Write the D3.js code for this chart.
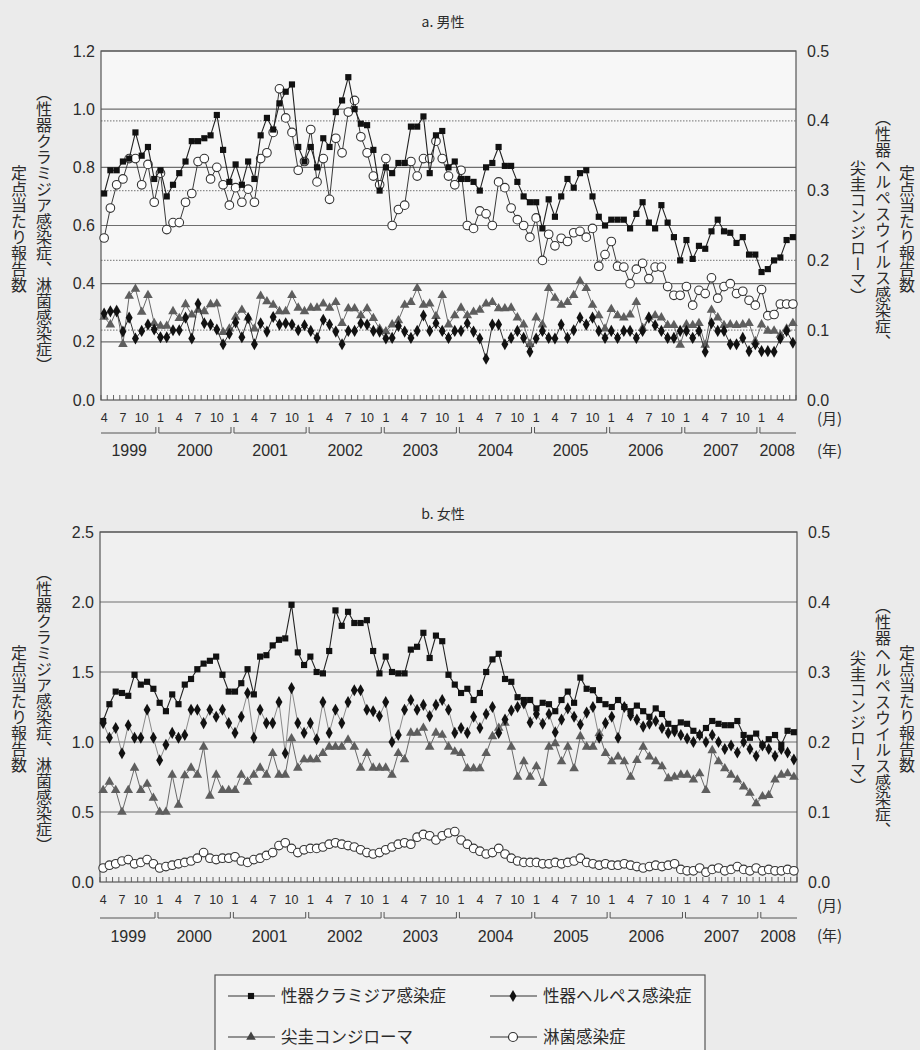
<!DOCTYPE html>
<html>
<head>
<meta charset="utf-8">
<script src="https://cdn.jsdelivr.net/npm/d3@7"></script>
<style>
  body { margin: 0; background: #ebebeb; }
  svg text { font-family: "Liberation Sans", Arial, sans-serif; fill: #2b2b2b; }
  svg text.jp { font-family: "Noto Sans CJK JP", sans-serif; }
  .vert { writing-mode: vertical-rl; }
</style>
</head>
<body>
<svg id="chart" width="920" height="1050"></svg>
<script>
// monthly reports per sentinel site, April 1999 to June 2008
const startYear = 1999;
const startMonth = 4;
const monthCount = 111;
const years = ["1999", "2000", "2001", "2002", "2003", "2004", "2005", "2006", "2007", "2008"];
const monthTickLabels = [1, 4, 7, 10];

const maleLeftTicks = [0, 0.2, 0.4, 0.6, 0.8, 1.0, 1.2];
const femaleLeftTicks = [0, 0.5, 1.0, 1.5, 2.0, 2.5];
const rightTicks = [0, 0.1, 0.2, 0.3, 0.4, 0.5];

// a. male — left axis
const maleChlamydia = [
  0.71, 0.79, 0.79, 0.82, 0.83, 0.92, 0.84, 0.87, 0.76, 0.79,
  0.70, 0.74, 0.78, 0.82, 0.89, 0.89, 0.90, 0.91, 0.98, 0.86,
  0.75, 0.81, 0.74, 0.82, 0.76, 0.91, 0.97, 0.93, 1.02, 1.06,
  1.085, 0.87, 0.82, 0.87, 0.80, 0.90, 0.87, 0.99, 1.03, 1.11,
  1.00, 0.95, 0.945, 0.86, 0.72, 0.80, 0.78, 0.815, 0.815, 0.94,
  0.94, 0.975, 0.78, 0.91, 0.925, 0.80, 0.82, 0.76, 0.76, 0.75,
  0.72, 0.80, 0.815, 0.87, 0.805, 0.805, 0.75, 0.70, 0.68, 0.68,
  0.59, 0.69, 0.63, 0.70, 0.76, 0.73, 0.78, 0.79, 0.70, 0.63,
  0.60, 0.62, 0.62, 0.62, 0.59, 0.64, 0.68, 0.61, 0.59, 0.67,
  0.61, 0.56, 0.48, 0.55, 0.485, 0.53, 0.52, 0.58, 0.62, 0.58,
  0.575, 0.54, 0.56, 0.50, 0.50, 0.44, 0.45, 0.48, 0.49, 0.55,
  0.56
];
const maleGonorrhea = [
  0.557, 0.66, 0.74, 0.76, 0.83, 0.83, 0.74, 0.81, 0.68, 0.78,
  0.586, 0.61, 0.61, 0.68, 0.71, 0.82, 0.83, 0.76, 0.80, 0.74,
  0.67, 0.73, 0.68, 0.725, 0.68, 0.83, 0.85, 0.92, 1.07, 0.97,
  0.92, 0.79, 0.82, 0.93, 0.75, 0.83, 0.69, 0.90, 0.85, 0.99,
  1.03, 0.905, 0.85, 0.77, 0.74, 0.83, 0.60, 0.655, 0.67, 0.82,
  0.77, 0.83, 0.83, 0.89, 0.83, 0.77, 0.74, 0.79, 0.60, 0.59,
  0.65, 0.64, 0.60, 0.75, 0.73, 0.66, 0.62, 0.60, 0.56, 0.626,
  0.48, 0.57, 0.53, 0.556, 0.545, 0.575, 0.58, 0.56, 0.59, 0.46,
  0.50, 0.545, 0.46, 0.457, 0.40, 0.45, 0.47, 0.417, 0.457, 0.457,
  0.39, 0.36, 0.36, 0.39, 0.326, 0.377, 0.366, 0.42, 0.35, 0.39,
  0.40, 0.366, 0.374, 0.343, 0.326, 0.38, 0.29, 0.294, 0.33, 0.33,
  0.33
];
// a. male — right axis
const maleHerpes = [
  0.124, 0.127, 0.127, 0.098, 0.118, 0.088, 0.099, 0.108, 0.101, 0.090,
  0.090, 0.100, 0.100, 0.118, 0.088, 0.138, 0.110, 0.108, 0.101, 0.080,
  0.095, 0.111, 0.090, 0.117, 0.080, 0.110, 0.098, 0.119, 0.108, 0.110,
  0.108, 0.100, 0.107, 0.099, 0.089, 0.115, 0.108, 0.098, 0.080, 0.099,
  0.099, 0.110, 0.108, 0.099, 0.098, 0.088, 0.089, 0.106, 0.098, 0.089,
  0.099, 0.121, 0.099, 0.110, 0.099, 0.089, 0.099, 0.099, 0.110, 0.098,
  0.088, 0.059, 0.108, 0.108, 0.080, 0.089, 0.099, 0.089, 0.069, 0.088,
  0.099, 0.089, 0.088, 0.108, 0.089, 0.100, 0.118, 0.108, 0.118, 0.099,
  0.089, 0.099, 0.089, 0.099, 0.099, 0.089, 0.099, 0.118, 0.107, 0.099,
  0.089, 0.089, 0.099, 0.099, 0.089, 0.099, 0.069, 0.110, 0.099, 0.099,
  0.080, 0.080, 0.089, 0.070, 0.080, 0.070, 0.070, 0.069, 0.088, 0.099,
  0.082
];
const maleCondyloma = [
  0.119, 0.108, 0.129, 0.080, 0.149, 0.159, 0.126, 0.150, 0.110, 0.106,
  0.106, 0.127, 0.117, 0.137, 0.122, 0.129, 0.127, 0.137, 0.138, 0.097,
  0.102, 0.119, 0.129, 0.118, 0.102, 0.149, 0.141, 0.136, 0.127, 0.127,
  0.150, 0.132, 0.127, 0.132, 0.132, 0.138, 0.132, 0.140, 0.110, 0.131,
  0.131, 0.121, 0.131, 0.117, 0.102, 0.098, 0.108, 0.114, 0.136, 0.140,
  0.160, 0.136, 0.138, 0.120, 0.150, 0.108, 0.121, 0.132, 0.121, 0.126,
  0.129, 0.138, 0.140, 0.131, 0.131, 0.132, 0.118, 0.108, 0.080, 0.118,
  0.108, 0.160, 0.146, 0.136, 0.140, 0.150, 0.170, 0.160, 0.136, 0.121,
  0.102, 0.130, 0.121, 0.118, 0.122, 0.140, 0.103, 0.119, 0.121, 0.118,
  0.107, 0.107, 0.079, 0.108, 0.107, 0.110, 0.079, 0.129, 0.118, 0.107,
  0.108, 0.107, 0.108, 0.110, 0.084, 0.108, 0.099, 0.099, 0.093, 0.102,
  0.110
];

// b. female — left axis
const femaleChlamydia = [
  1.15, 1.27, 1.36, 1.35, 1.33, 1.48, 1.41, 1.43, 1.38, 1.28,
  1.22, 1.34, 1.27, 1.41, 1.45, 1.52, 1.56, 1.58, 1.61, 1.48,
  1.36, 1.36, 1.42, 1.52, 1.34, 1.61, 1.62, 1.69, 1.73, 1.74,
  1.98, 1.64, 1.55, 1.61, 1.50, 1.49, 1.65, 1.94, 1.83, 1.93,
  1.85, 1.85, 1.87, 1.65, 1.49, 1.61, 1.50, 1.49, 1.49, 1.66,
  1.68, 1.78, 1.60, 1.76, 1.72, 1.48, 1.41, 1.35, 1.38, 1.30,
  1.35, 1.50, 1.59, 1.63, 1.45, 1.43, 1.32, 1.30, 1.30, 1.24,
  1.28, 1.27, 1.22, 1.30, 1.36, 1.28, 1.46, 1.38, 1.37, 1.30,
  1.27, 1.25, 1.30, 1.25, 1.22, 1.26, 1.22, 1.18, 1.24, 1.20,
  1.13, 1.10, 1.14, 1.13, 1.08, 1.05, 1.10, 1.15, 1.13, 1.12,
  1.12, 1.15, 1.05, 1.03, 1.06, 0.98, 1.02, 1.05, 0.98, 1.08,
  1.07
];
const femaleGonorrhea = [
  0.10, 0.12, 0.13, 0.15, 0.16, 0.13, 0.14, 0.16, 0.13, 0.10,
  0.11, 0.12, 0.13, 0.14, 0.15, 0.17, 0.21, 0.17, 0.16, 0.17,
  0.17, 0.18, 0.15, 0.14, 0.16, 0.17, 0.19, 0.21, 0.26, 0.28,
  0.24, 0.21, 0.23, 0.24, 0.24, 0.25, 0.27, 0.28, 0.27, 0.26,
  0.25, 0.23, 0.21, 0.20, 0.21, 0.23, 0.25, 0.27, 0.28, 0.27,
  0.32, 0.34, 0.33, 0.30, 0.33, 0.35, 0.36, 0.30, 0.27, 0.24,
  0.22, 0.20, 0.21, 0.24, 0.20, 0.17, 0.15, 0.14, 0.14, 0.14,
  0.13, 0.13, 0.14, 0.13, 0.14, 0.15, 0.17, 0.14, 0.13, 0.12,
  0.13, 0.12, 0.12, 0.13, 0.12, 0.11, 0.10, 0.11, 0.12, 0.11,
  0.12, 0.13, 0.09, 0.08, 0.08, 0.10, 0.07, 0.09, 0.10, 0.08,
  0.09, 0.11, 0.09, 0.08, 0.10, 0.08, 0.09, 0.08, 0.08, 0.09,
  0.08
];
// b. female — right axis
const femaleHerpes = [
  0.227, 0.206, 0.220, 0.184, 0.224, 0.206, 0.206, 0.246, 0.206, 0.174,
  0.196, 0.213, 0.206, 0.210, 0.246, 0.246, 0.227, 0.246, 0.236, 0.246,
  0.227, 0.213, 0.236, 0.270, 0.206, 0.246, 0.227, 0.227, 0.257, 0.184,
  0.277, 0.227, 0.213, 0.227, 0.204, 0.257, 0.213, 0.246, 0.227, 0.257,
  0.274, 0.274, 0.246, 0.244, 0.237, 0.257, 0.200, 0.210, 0.246, 0.260,
  0.246, 0.253, 0.237, 0.253, 0.260, 0.246, 0.213, 0.220, 0.213, 0.236,
  0.220, 0.240, 0.250, 0.213, 0.232, 0.245, 0.250, 0.255, 0.228, 0.240,
  0.226, 0.240, 0.214, 0.232, 0.248, 0.236, 0.225, 0.242, 0.250, 0.206,
  0.227, 0.236, 0.206, 0.250, 0.238, 0.232, 0.222, 0.226, 0.230, 0.220,
  0.213, 0.215, 0.210, 0.205, 0.200, 0.210, 0.200, 0.210, 0.200, 0.190,
  0.195, 0.185, 0.200, 0.190, 0.180, 0.195, 0.190, 0.180, 0.190, 0.185,
  0.175
];
const femaleCondyloma = [
  0.131, 0.143, 0.131, 0.100, 0.131, 0.163, 0.131, 0.140, 0.120, 0.100,
  0.100, 0.153, 0.110, 0.152, 0.163, 0.153, 0.193, 0.123, 0.153, 0.131,
  0.131, 0.131, 0.153, 0.143, 0.153, 0.163, 0.153, 0.184, 0.153, 0.153,
  0.205, 0.163, 0.175, 0.175, 0.175, 0.184, 0.193, 0.193, 0.193, 0.203,
  0.193, 0.163, 0.184, 0.163, 0.163, 0.163, 0.153, 0.184, 0.175, 0.213,
  0.213, 0.220, 0.193, 0.213, 0.210, 0.193, 0.186, 0.184, 0.162, 0.162,
  0.162, 0.184, 0.208, 0.220, 0.227, 0.193, 0.150, 0.172, 0.150, 0.165,
  0.141, 0.193, 0.198, 0.172, 0.193, 0.162, 0.208, 0.193, 0.193, 0.212,
  0.184, 0.172, 0.179, 0.172, 0.150, 0.174, 0.193, 0.179, 0.172, 0.165,
  0.148, 0.150, 0.153, 0.153, 0.146, 0.155, 0.131, 0.188, 0.172, 0.162,
  0.153, 0.146, 0.136, 0.127, 0.112, 0.122, 0.124, 0.146, 0.153, 0.155,
  0.150
];

const monthOf = d3.range(monthCount).map((i) => ((startMonth - 1 + i) % 12) + 1);
const yearOf = d3.range(monthCount).map((i) => startYear + Math.floor((startMonth - 1 + i) / 12));

const svg = d3.select("#chart");

const panels = [
  {
    title: "a. 男性", titleY: 27,
    left: 101, right: 796, top: 51, bottom: 400,
    leftMax: 1.2, leftTicks: maleLeftTicks,
    plotFill: "#f7f7f7",
    chlamydia: maleChlamydia, gonorrhea: maleGonorrhea,
    herpes: maleHerpes, condyloma: maleCondyloma,
    herpesLine: "#333", bracketY: 433, yearY: 456, monthUnitY: 424, yearUnitY: 456,
    labelTop: 85, labelTop2: 165, rLabelTop: 110, rLabelTop2: 160
  },
  {
    title: "b. 女性", titleY: 519,
    left: 100, right: 797, top: 532, bottom: 882,
    leftMax: 2.5, leftTicks: femaleLeftTicks,
    plotFill: "#f0f0f0",
    chlamydia: femaleChlamydia, gonorrhea: femaleGonorrhea,
    herpes: femaleHerpes, condyloma: femaleCondyloma,
    herpesLine: "#8a8a8a", bracketY: 918, yearY: 942, monthUnitY: 911, yearUnitY: 941,
    labelTop: 565, labelTop2: 645, rLabelTop: 598, rLabelTop2: 650
  }
];

const markSquare = d3.symbol().type(d3.symbolSquare).size(38);
const markDiamond = d3.symbol().type(d3.symbolDiamond).size(42);
const markTriangle = d3.symbol().type(d3.symbolTriangle).size(40);

const drawPanel = (p) => {
  const g = svg.append("g");

  const x = d3.scaleBand().domain(d3.range(monthCount)).range([p.left, p.right]);
  const cx = (i) => x(i) + x.bandwidth() / 2;
  const yL = d3.scaleLinear().domain([0, p.leftMax]).range([p.bottom, p.top]);
  const yR = d3.scaleLinear().domain([0, 0.5]).range([p.bottom, p.top]);

  g.append("rect")
    .attr("x", p.left).attr("y", p.top)
    .attr("width", p.right - p.left).attr("height", p.bottom - p.top)
    .attr("fill", p.plotFill);

  // solid grid on left ticks
  g.selectAll(".gridL")
    .data(p.leftTicks.filter((t) => t > 0))
    .enter().append("line")
    .attr("x1", p.left).attr("x2", p.right)
    .attr("y1", (t) => yL(t)).attr("y2", (t) => yL(t))
    .attr("stroke", "#6e6e6e").attr("stroke-width", 1.1);

  // dotted grid on right ticks that do not sit on a solid line
  const dotted = rightTicks.filter((t) => t > 0 && t < 0.5)
    .filter((t) => p.leftTicks.every((l) => Math.abs(yL(l) - yR(t)) > 2));
  g.selectAll(".gridR")
    .data(dotted)
    .enter().append("line")
    .attr("x1", p.left).attr("x2", p.right)
    .attr("y1", (t) => yR(t)).attr("y2", (t) => yR(t))
    .attr("stroke", "#8c8c8c").attr("stroke-width", 1.2)
    .attr("stroke-dasharray", "1.5,1.5");

  // minor month ticks inside the frame
  g.selectAll(".mtick")
    .data(d3.range(monthCount + 1))
    .enter().append("line")
    .attr("x1", (i) => p.left + i * x.bandwidth())
    .attr("x2", (i) => p.left + i * x.bandwidth())
    .attr("y1", p.bottom).attr("y2", p.bottom - 5)
    .attr("stroke", "#555").attr("stroke-width", 0.9);

  // frame
  g.append("rect")
    .attr("x", p.left).attr("y", p.top)
    .attr("width", p.right - p.left).attr("height", p.bottom - p.top)
    .attr("fill", "none").attr("stroke", "#555").attr("stroke-width", 1.2);

  // axes
  const leftAxis = g.append("g")
    .attr("transform", `translate(${p.left},0)`)
    .call(d3.axisLeft(yL).tickValues(p.leftTicks).tickSize(0).tickPadding(6).tickFormat(d3.format(".1f")));
  const rightAxis = g.append("g")
    .attr("transform", `translate(${p.right},0)`)
    .call(d3.axisRight(yR).tickValues(rightTicks).tickSize(0).tickPadding(11).tickFormat(d3.format(".1f")));
  const monthAxis = g.append("g")
    .attr("transform", `translate(0,${p.bottom})`)
    .call(d3.axisBottom(x)
      .tickValues(d3.range(monthCount).filter((i) => monthTickLabels.includes(monthOf[i])))
      .tickFormat((i) => monthOf[i]).tickSize(0).tickPadding(13));
  [leftAxis, rightAxis].forEach((a) => a.selectAll("text").attr("font-size", 16).attr("fill", "#2b2b2b"));
  monthAxis.selectAll("text").attr("font-size", 12.5).attr("fill", "#2b2b2b");
  [leftAxis, rightAxis, monthAxis].forEach((a) => {
    a.select(".domain").remove();
    a.attr("font-family", null);
  });

  // year brackets
  const yearRanges = years.map((yr) => {
    const idx = d3.range(monthCount).filter((i) => yearOf[i] === +yr);
    return { yr, x0: x(idx[0]), x1: x(idx[idx.length - 1]) + x.bandwidth() };
  });
  const yb = g.selectAll(".yearb").data(yearRanges).enter().append("g");
  yb.append("line")
    .attr("x1", (d, k) => d.x0 + (k === 0 ? 0 : 1.5)).attr("x2", (d, k) => d.x1 - (k === years.length - 1 ? 0 : 1.5))
    .attr("y1", p.bracketY).attr("y2", p.bracketY)
    .attr("stroke", "#555").attr("stroke-width", 1);
  yb.filter((d, k) => k > 0).append("line")
    .attr("x1", (d) => d.x0 + 1.5).attr("x2", (d) => d.x0 + 1.5)
    .attr("y1", p.bracketY - 6).attr("y2", p.bracketY)
    .attr("stroke", "#555");
  yb.filter((d, k) => k < years.length - 1).append("line")
    .attr("x1", (d) => d.x1 - 1.5).attr("x2", (d) => d.x1 - 1.5)
    .attr("y1", p.bracketY - 6).attr("y2", p.bracketY)
    .attr("stroke", "#555");
  yb.append("text")
    .attr("x", (d) => Math.max((d.x0 + d.x1) / 2, p.left + 18))
    .attr("y", p.yearY)
    .attr("text-anchor", "middle").attr("font-size", 16)
    .text((d) => d.yr);

  g.append("text").attr("class", "jp").attr("x", 817).attr("y", p.monthUnitY)
    .attr("font-size", 15).text("(月)");
  g.append("text").attr("class", "jp").attr("x", 817).attr("y", p.yearUnitY)
    .attr("font-size", 15).text("(年)");

  // title
  g.append("text").attr("class", "jp").attr("x", 443).attr("y", p.titleY)
    .attr("text-anchor", "middle").attr("font-size", 14).text(p.title);

  // vertical axis titles
  const vText = (xPos, yTop, str) => g.append("text")
    .attr("class", "jp vert")
    .attr("x", xPos).attr("y", yTop)
    .attr("font-size", 16)
    .text(str);
  vText(44, p.labelTop, "（性器クラミジア感染症、淋菌感染症）");
  vText(19, p.labelTop2, "定点当たり報告数");
  vText(883, p.rLabelTop, "（性器ヘルペスウイルス感染症、");
  vText(858, p.rLabelTop2, "尖圭コンジローマ）");
  vText(907, p.labelTop2, "定点当たり報告数");

  // series
  const lineR = d3.line().x((d, i) => cx(i)).y((d) => yR(d));
  const lineL = d3.line().x((d, i) => cx(i)).y((d) => yL(d));

  g.append("path").datum(p.condyloma).attr("d", lineR)
    .attr("fill", "none").attr("stroke", "#6a6a6a").attr("stroke-width", 1);
  g.selectAll(".tri").data(p.condyloma).enter().append("path")
    .attr("d", markTriangle)
    .attr("transform", (d, i) => `translate(${cx(i)},${yR(d)})`)
    .attr("fill", "#5e5e5e");

  g.append("path").datum(p.herpes).attr("d", lineR)
    .attr("fill", "none").attr("stroke", p.herpesLine).attr("stroke-width", 1);
  g.selectAll(".dia").data(p.herpes).enter().append("path")
    .attr("d", markDiamond)
    .attr("transform", (d, i) => `translate(${cx(i)},${yR(d)})`)
    .attr("fill", "#111");

  g.append("path").datum(p.gonorrhea).attr("d", lineL)
    .attr("fill", "none").attr("stroke", "#3a3a3a").attr("stroke-width", 1);
  g.selectAll(".circ").data(p.gonorrhea).enter().append("circle")
    .attr("cx", (d, i) => cx(i)).attr("cy", (d) => yL(d)).attr("r", 4.3)
    .attr("fill", "#fff").attr("stroke", "#333").attr("stroke-width", 1.1);

  g.append("path").datum(p.chlamydia).attr("d", lineL)
    .attr("fill", "none").attr("stroke", "#222").attr("stroke-width", 1.1);
  g.selectAll(".sq").data(p.chlamydia).enter().append("path")
    .attr("d", markSquare)
    .attr("transform", (d, i) => `translate(${cx(i)},${yL(d)})`)
    .attr("fill", "#111");
};

panels.forEach(drawPanel);

// legend
const legendItems = [
  { name: "性器クラミジア感染症", mark: "square", col: 0, row: 0 },
  { name: "性器ヘルペス感染症", mark: "diamond", col: 1, row: 0 },
  { name: "尖圭コンジローマ", mark: "triangle", col: 0, row: 1 },
  { name: "淋菌感染症", mark: "circle", col: 1, row: 1 }
];
const legend = svg.append("g");
legend.append("rect")
  .attr("x", 215).attr("y", 975).attr("width", 490).attr("height", 95)
  .attr("fill", "#f2f2f2").attr("stroke", "#555").attr("stroke-width", 1.2);
const li = legend.selectAll(".li").data(legendItems).enter().append("g")
  .attr("transform", (d) => `translate(${228 + d.col * 262},${996 + d.row * 41})`);
li.append("line").attr("x1", 0).attr("x2", 47).attr("y1", 0).attr("y2", 0)
  .attr("stroke", "#333").attr("stroke-width", 1.2);
li.each(function (d) {
  const s = d3.select(this);
  if (d.mark === "circle") {
    s.append("circle").attr("cx", 23).attr("cy", 0).attr("r", 4.5)
      .attr("fill", "#fff").attr("stroke", "#333").attr("stroke-width", 1.2);
  } else {
    const sym = d.mark === "square" ? markSquare : d.mark === "diamond" ? markDiamond : markTriangle;
    s.append("path").attr("d", sym).attr("transform", "translate(23,0)")
      .attr("fill", d.mark === "triangle" ? "#444" : "#111");
  }
});
li.append("text").attr("class", "jp").attr("x", 53).attr("y", 6)
  .attr("font-size", 16.5).text((d) => d.name);
</script>
</body>
</html>
